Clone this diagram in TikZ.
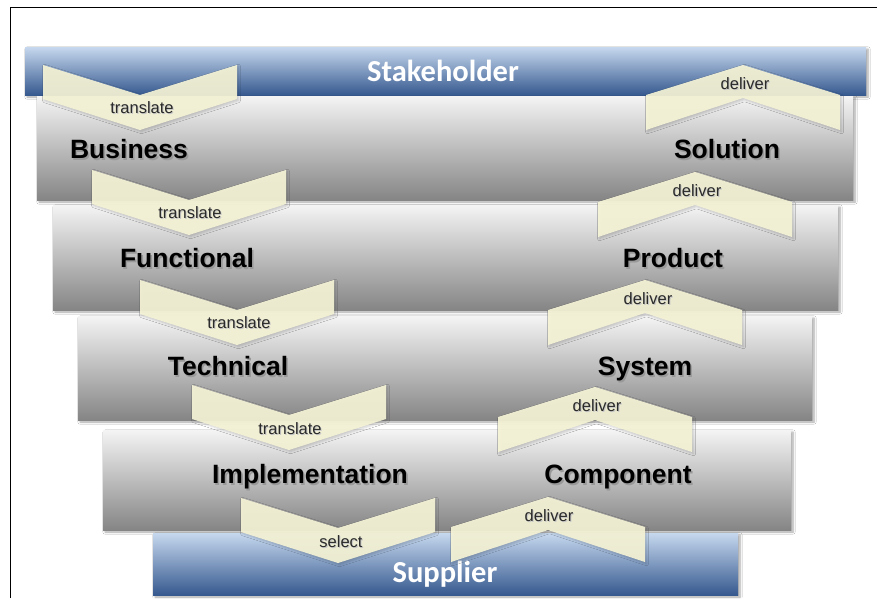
\documentclass[tikz,border=0pt]{standalone}
\usepackage{fontspec}
\setmainfont{Liberation Sans}
\newfontfamily\hdrfont{Carlito}
\usetikzlibrary{shadows.blur}
\definecolor{chevfill}{HTML}{F6F4D6}
\definecolor{graytop}{HTML}{F4F4F4}
\definecolor{graybot}{HTML}{858585}
\definecolor{bluetop}{HTML}{C6D8EE}
\definecolor{bluebot}{HTML}{36598F}
\definecolor{chevtext}{HTML}{2A2A2A}
\newcommand\shadowed[1]{\makebox[0pt][l]{\hspace{1.6pt}\raisebox{-1.6pt}{\textcolor{black!40}{#1}}}#1}
\newcommand\lightshadowed[1]{\makebox[0pt][l]{\hspace{1pt}\raisebox{-1pt}{\textcolor{black!22}{#1}}}#1}
\tikzset{
  band/.style={rectangle, inner sep=0pt, top color=graytop, bottom color=graybot,
    blur shadow={shadow xshift=2pt, shadow yshift=-2pt, shadow blur steps=6, shadow opacity=35}},
  bluebar/.style={rectangle, inner sep=0pt, top color=bluetop, bottom color=bluebot,
    blur shadow={shadow xshift=2pt, shadow yshift=-2pt, shadow blur steps=6, shadow opacity=35}},
  bandlabel/.style={inner sep=0pt, font=\fontsize{26.5}{30}\selectfont\bfseries, text=black,
    text height=19pt, text depth=0pt},
  barlabel/.style={inner sep=0pt, font=\hdrfont\fontsize{30.5}{34}\selectfont\bfseries, text=white,
    text height=19.6pt, text depth=0pt},
  chevlabel/.style={inner sep=0pt, font=\fontsize{16.5}{19}\selectfont, text=chevtext,
    text height=12pt, text depth=0pt},
  chevshape/.style={fill=chevfill, fill opacity=0.92,
    blur shadow={shadow xshift=1.5pt, shadow yshift=-1.5pt, shadow blur steps=4, shadow opacity=18}},
  downchev/.pic={
    \path[chevshape] (-97,0) -- (0,30) -- (97,0) -- (97,34) -- (0,65) -- (-97,34) -- cycle;
  },
  upchev/.pic={
    \path[chevshape] (0,0) -- (97,30) -- (97,65) -- (0,33) -- (-97,65) -- (-97,30) -- cycle;
  }
}
\begin{document}
\begin{tikzpicture}[x=1pt,y=-1pt]
\useasboundingbox (0,0) rectangle (877,598);
\fill[white] (0,0) rectangle (877,598);
\draw[line width=1pt] (10,598) -- (10,7) -- (877,7);

% bands
\node[bluebar, minimum width=841pt, minimum height=48pt] (stake) at (445.5,71) {};
\node[band, minimum width=816pt, minimum height=104pt] (business) at (445,148) {};
\node[band, minimum width=785pt, minimum height=105pt] (functional) at (445.5,257.5) {};
\node[band, minimum width=734pt, minimum height=104pt] (technical) at (445,368) {};
\node[band, minimum width=688pt, minimum height=100pt] (implementation) at (447,480) {};
\node[bluebar, minimum width=585pt, minimum height=62pt] (supplier) at (445.5,564) {};

% band labels
\node[barlabel] (lstake) at (443,72) {Stakeholder};
\node[barlabel] (lsupp) at (445,573) {Supplier};
\node[bandlabel] (lbus) at (129,149) {\shadowed{Business}};
\node[bandlabel] (lsol) at (727,149) {\shadowed{Solution}};
\node[bandlabel] (lfun) at (187,258) {\shadowed{Functional}};
\node[bandlabel] (lprod) at (673,258) {\shadowed{Product}};
\node[bandlabel] (ltech) at (228,366) {\shadowed{Technical}};
\node[bandlabel] (lsys) at (645,366) {\shadowed{System}};
\node[bandlabel] (limpl) at (310,474) {\shadowed{Implementation}};
\node[bandlabel] (lcomp) at (618,474) {\shadowed{Component}};

% down chevrons
\pic at (140,65) {downchev};
\pic at (189,170) {downchev};
\pic at (237,280) {downchev};
\pic at (289,385) {downchev};
\pic at (338,498) {downchev};
% up chevrons
\pic at (743,65) {upchev};
\pic at (695,172) {upchev};
\pic at (645,280) {upchev};
\pic at (595,387) {upchev};
\pic at (548,497) {upchev};

% chevron labels
\node[chevlabel] (t1) at (142,107) {\lightshadowed{translate}};
\node[chevlabel] (t2) at (190,212) {\lightshadowed{translate}};
\node[chevlabel] (t3) at (239,322) {\lightshadowed{translate}};
\node[chevlabel] (t4) at (290,428) {\lightshadowed{translate}};
\node[chevlabel] (s1) at (341,541) {\lightshadowed{select}};
\node[chevlabel] (d1) at (745,83) {\lightshadowed{deliver}};
\node[chevlabel] (d2) at (697,190) {\lightshadowed{deliver}};
\node[chevlabel] (d3) at (648,298) {\lightshadowed{deliver}};
\node[chevlabel] (d4) at (597,405) {\lightshadowed{deliver}};
\node[chevlabel] (d5) at (549,515) {\lightshadowed{deliver}};
\end{tikzpicture}
\end{document}
